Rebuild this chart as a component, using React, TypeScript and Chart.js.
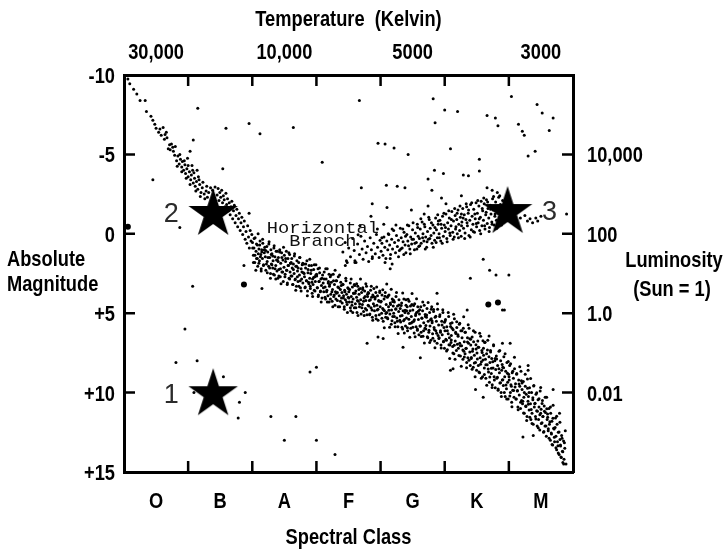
import React, { useEffect, useRef } from 'react';
import { Chart, registerables } from 'chart.js';

Chart.register(...registerables);

// ---------- axis / label data ----------
const spectralClasses = ['O', 'B', 'A', 'F', 'G', 'K', 'M'];
const classCenters = [0.5, 1.5, 2.5, 3.5, 4.5, 5.5, 6.5];
const classBoundaries = [1, 2, 3, 4, 5, 6];
const temperatureLabels = ['30,000', '10,000', '5000', '3000'];
const temperaturePositions = [0.5, 2.5, 4.5, 6.5];
const magnitudeTicks = [-10, -5, 0, 5, 10, 15];
const magnitudeLabels = ['-10', '-5', '0', '+5', '+10', '+15'];
const innerMagnitudeTicks = [-5, 0, 5, 10];
const luminosityTicks = [-5, 0, 5, 10];
const luminosityLabels = ['10,000', '100', '1.0', '0.01'];

// ---------- star data: [spectral position, absolute magnitude] ----------
type P = [number, number];

const mainSequenceUpper: P[] = [
  [0.06, -9.75], [0.09, -9.45], [0.15, -9.1], [0.2, -8.8], [0.25, -8.4], [0.33, -8.4], [0.35, -7.7], [0.42, -7.4],
  [0.45, -7.15], [0.48, -6.9], [0.54, -6.4], [0.56, -6.6], [0.61, -6.7], [0.64, -6.25], [0.67, -6.05], [0.69, -5.35],
  [0.72, -5.3], [0.74, -5.65], [0.77, -5.2], [0.8, -5.5], [0.82, -4.6], [0.84, -4.9], [0.86, -4.4], [0.88, -4.7],
  [0.9, -4.2], [0.91, -4.55], [0.93, -4.0], [0.95, -4.35], [0.96, -3.8], [0.98, -4.1], [1.0, -3.6], [1.0, -4.3],
  [1.02, -3.9], [1.04, -3.4], [1.05, -3.7], [1.07, -4.0], [1.08, -3.2], [1.1, -3.5], [1.11, -3.0], [1.13, -3.3],
  [1.15, -2.8], [1.16, -3.6], [1.18, -3.1], [1.2, -2.6], [1.22, -2.9], [1.25, -2.5], [1.28, -2.7], [1.3, -2.3],
  [0.5, -6.65], [0.58, -6.2], [0.63, -5.95], [0.66, -6.4], [0.71, -5.6], [0.76, -5.45], [0.79, -4.95],
  [0.83, -4.25], [0.87, -5.0], [0.9, -3.9], [0.94, -4.6], [0.97, -3.5], [0.99, -4.75], [1.03, -3.1], [1.06, -4.3],
  [1.09, -3.85], [1.12, -2.7], [1.14, -4.0], [1.17, -3.4], [1.19, -2.35], [1.23, -3.25], [1.26, -2.2], [1.29, -3.0],
  [1.32, -2.6], [1.35, -2.9], [1.38, -2.75], [1.42, -2.95],
];

const mainSequenceBright: P[] = [
  [1.452, -2.45], [1.467, -2.85], [1.481, -2.1], [1.494, -2.6], [1.508, -2.3], [1.523, -2.75], [1.536, -1.95], [1.549, -2.4],
  [1.562, -2.15], [1.576, -1.7], [1.589, -2.55], [1.601, -1.85], [1.614, -2.2], [1.628, -1.45], [1.641, -1.95], [1.655, -1.2],
  [1.668, -1.7], [1.681, -2.05], [1.694, -0.95], [1.707, -1.45], [1.72, -1.8], [1.733, -0.7], [1.746, -1.15], [1.759, -1.55],
  [1.772, -0.45], [1.785, -0.95], [1.798, -1.3], [1.811, -0.2], [1.824, -0.7], [1.837, -1.05], [1.85, 0.05], [1.863, -0.45],
  [1.876, -0.8], [1.889, 0.35], [1.902, -0.15], [1.915, 0.6], [1.928, -0.5], [1.941, 0.2], [1.954, 0.9], [1.967, -0.2],
  [1.98, 0.45], [1.993, 0.05],
];

const mainSequenceMiddle: P[] = [
  [2.003, 0.55], [2.017, 1.35], [2.026, 0.9], [2.038, 1.8], [2.044, 0.25], [2.058, 1.1], [2.066, 1.55], [2.079, 0.7], [2.085, 2.05], [2.093, 1.25],
  [2.104, 0.95], [2.112, 1.7], [2.121, 0.45], [2.133, 1.3], [2.139, 2.2], [2.147, 1.0], [2.158, 1.55], [2.164, 0.6], [2.176, 1.95], [2.188, 1.2], [2.195, 0.85],
  [2.203, 1.45], [2.211, 2.3], [2.226, 0.8], [2.232, 1.75], [2.241, 1.15], [2.255, 2.05], [2.262, 0.5], [2.271, 1.5], [2.284, 2.5], [2.29, 1.0], [2.298, 1.9],
  [2.306, 1.25], [2.318, 2.15], [2.324, 1.7], [2.337, 0.9], [2.345, 2.6], [2.353, 1.45], [2.366, 2.0], [2.372, 1.1], [2.385, 2.35], [2.391, 1.65], [2.399, 2.8],
  [2.407, 1.5], [2.414, 2.25], [2.428, 1.0], [2.436, 2.7], [2.443, 1.85], [2.457, 1.2], [2.462, 2.4], [2.478, 1.65], [2.483, 3.0], [2.494, 2.1], [2.5, 1.35],
  [2.512, 2.55], [2.519, 1.75], [2.531, 1.1], [2.538, 2.3], [2.547, 3.1], [2.556, 1.55], [2.565, 2.0], [2.573, 2.8], [2.582, 1.3], [2.589, 2.4], [2.597, 1.85],
  [2.604, 2.65], [2.615, 1.55], [2.622, 2.15], [2.634, 3.2], [2.641, 1.9], [2.652, 2.5], [2.66, 1.25], [2.671, 2.85], [2.679, 2.05], [2.688, 3.3], [2.696, 1.7],
  [2.705, 2.35], [2.713, 3.0], [2.724, 1.8], [2.735, 2.6], [2.742, 1.5], [2.751, 3.4], [2.762, 2.2], [2.769, 2.85], [2.778, 1.95], [2.789, 3.1], [2.797, 2.45],
  [2.803, 1.9], [2.814, 2.7], [2.826, 3.35], [2.831, 2.15], [2.843, 2.95], [2.852, 1.7], [2.861, 3.6], [2.868, 2.45], [2.877, 3.05], [2.886, 2.0], [2.895, 2.8],
  [2.904, 3.3], [2.911, 2.5], [2.923, 2.0], [2.933, 3.75], [2.94, 2.85], [2.948, 3.2], [2.957, 2.25], [2.966, 3.55], [2.975, 2.7], [2.983, 3.0], [2.992, 1.95],
  [3.004, 2.65], [3.012, 3.4], [3.025, 2.2], [3.031, 3.85], [3.042, 3.0], [3.05, 2.45], [3.063, 3.6], [3.069, 2.85], [3.078, 3.25], [3.087, 4.05], [3.096, 2.6],
  [3.105, 3.1], [3.114, 3.65], [3.121, 2.4], [3.136, 3.35], [3.142, 4.1], [3.151, 2.85], [3.163, 3.55], [3.168, 2.2], [3.179, 3.9], [3.187, 3.0], [3.198, 4.3],
  [3.203, 3.3], [3.216, 2.7], [3.224, 3.8], [3.232, 3.05], [3.245, 4.25], [3.251, 3.5], [3.262, 2.55], [3.27, 3.95], [3.281, 3.2], [3.289, 4.5], [3.297, 3.65],
  [3.306, 2.95], [3.313, 3.75], [3.327, 4.2], [3.334, 3.35], [3.341, 2.7], [3.355, 3.9], [3.362, 4.6], [3.373, 3.5], [3.38, 3.05], [3.391, 4.05], [3.398, 3.7],
  [3.402, 4.35], [3.415, 3.2], [3.423, 3.9], [3.434, 4.75], [3.44, 3.55], [3.452, 4.15], [3.461, 2.95], [3.469, 3.8], [3.478, 4.45], [3.489, 3.4], [3.496, 4.0],
  [3.505, 3.65], [3.513, 4.3], [3.528, 3.1], [3.535, 4.85], [3.543, 3.95], [3.554, 4.5], [3.561, 3.35], [3.572, 4.1], [3.58, 3.75], [3.591, 4.65], [3.598, 3.25],
  [3.607, 4.4], [3.614, 3.6], [3.626, 4.0], [3.633, 4.95], [3.645, 3.3], [3.652, 4.25], [3.664, 3.8], [3.671, 4.6], [3.682, 3.45], [3.69, 4.15], [3.697, 5.05],
  [3.704, 3.7], [3.716, 4.45], [3.723, 3.4], [3.735, 4.9], [3.742, 4.05], [3.751, 3.6], [3.763, 4.7], [3.77, 4.2], [3.781, 3.3], [3.788, 5.1], [3.797, 3.95],
  [3.806, 4.5], [3.812, 3.75], [3.825, 4.2], [3.833, 5.05], [3.844, 3.55], [3.851, 4.65], [3.86, 4.0], [3.872, 5.25], [3.879, 3.85], [3.888, 4.4], [3.896, 3.45],
  [3.905, 4.85], [3.913, 4.1], [3.926, 3.7], [3.931, 5.35], [3.943, 4.5], [3.952, 3.9], [3.96, 4.75], [3.971, 4.2], [3.98, 5.1], [3.987, 3.6], [3.994, 4.6],
  [4.003, 4.3], [4.016, 5.0], [4.022, 3.85], [4.033, 4.7], [4.041, 5.5], [4.054, 4.1], [4.061, 4.85], [4.073, 3.7], [4.079, 5.25], [4.088, 4.45], [4.097, 4.95],
  [4.106, 4.0], [4.112, 5.35], [4.124, 4.6], [4.131, 3.85], [4.145, 5.05], [4.152, 4.35], [4.166, 5.7], [4.171, 4.8], [4.182, 4.1], [4.19, 5.2], [4.198, 4.55],
  [4.204, 5.0], [4.215, 4.3], [4.223, 5.6], [4.236, 4.75], [4.241, 3.95], [4.253, 5.3], [4.264, 4.55], [4.27, 5.85], [4.282, 4.9], [4.287, 4.15], [4.299, 5.45],
  [4.307, 4.7], [4.313, 5.55], [4.328, 4.35], [4.335, 5.15], [4.344, 6.0], [4.351, 4.85], [4.363, 4.1], [4.372, 5.4], [4.38, 4.95], [4.389, 5.8], [4.396, 4.5],
  [4.404, 5.3], [4.415, 4.6], [4.421, 6.1], [4.433, 5.0], [4.444, 4.25], [4.452, 5.65], [4.46, 4.85], [4.471, 5.95], [4.479, 5.2], [4.488, 4.45], [4.497, 5.55],
  [4.503, 4.8], [4.517, 5.5], [4.524, 6.25], [4.531, 4.4], [4.546, 5.15], [4.553, 5.85], [4.562, 4.95], [4.574, 6.0], [4.58, 4.6], [4.59, 5.4], [4.598, 6.35],
  [4.606, 5.05], [4.614, 5.8], [4.627, 4.6], [4.632, 6.2], [4.643, 5.3], [4.655, 4.85], [4.661, 6.45], [4.673, 5.6], [4.68, 4.5], [4.692, 5.95], [4.699, 5.2],
  [4.705, 6.0], [4.716, 5.25], [4.724, 4.7], [4.736, 6.55], [4.742, 5.5], [4.753, 6.2], [4.765, 4.95], [4.771, 5.8], [4.783, 6.7], [4.79, 5.35], [4.797, 4.6],
];

const mainSequenceLower: P[] = [
  [4.804, 5.6], [4.811, 6.3], [4.826, 4.9], [4.834, 5.9], [4.843, 6.75], [4.85, 5.25], [4.862, 6.1], [4.87, 5.5], [4.881, 6.9], [4.889, 4.75], [4.896, 6.4],
  [4.905, 5.75], [4.913, 6.55], [4.925, 5.1], [4.934, 6.2], [4.942, 7.0], [4.953, 5.5], [4.961, 6.35], [4.972, 4.95], [4.98, 6.8], [4.988, 5.9], [4.996, 7.2],
  [5.004, 6.1], [5.012, 5.4], [5.026, 6.7], [5.033, 5.85], [5.041, 7.3], [5.055, 6.3], [5.062, 5.2], [5.073, 6.55], [5.081, 7.0], [5.09, 5.65], [5.098, 6.85],
  [5.103, 6.4], [5.115, 5.6], [5.124, 7.1], [5.132, 6.05], [5.143, 7.55], [5.151, 5.35], [5.164, 6.75], [5.17, 6.2], [5.182, 7.35], [5.189, 5.9], [5.197, 6.95],
  [5.206, 6.35], [5.213, 7.2], [5.227, 5.7], [5.234, 6.9], [5.245, 7.7], [5.252, 6.1], [5.263, 7.05], [5.27, 6.55], [5.284, 7.9], [5.29, 5.95], [5.299, 7.4],
  [5.305, 6.8], [5.317, 7.55], [5.322, 6.2], [5.336, 7.2], [5.343, 8.1], [5.355, 6.55], [5.361, 7.8], [5.372, 6.9], [5.38, 5.95], [5.391, 7.45], [5.398, 8.3],
  [5.406, 7.0], [5.413, 7.85], [5.427, 6.5], [5.433, 7.4], [5.445, 8.4], [5.451, 6.8], [5.462, 7.65], [5.474, 6.2], [5.48, 8.1], [5.49, 7.25], [5.497, 8.6],
  [5.503, 7.5], [5.516, 6.75], [5.524, 8.3], [5.531, 7.15], [5.544, 8.75], [5.552, 7.8], [5.56, 6.45], [5.572, 8.05], [5.579, 7.35], [5.59, 9.0], [5.598, 7.95],
  [5.604, 7.2], [5.617, 8.45], [5.623, 6.85], [5.635, 7.9], [5.641, 9.1], [5.653, 7.55], [5.662, 8.25], [5.671, 6.7], [5.683, 8.7], [5.69, 7.75], [5.697, 9.35],
  [5.705, 8.1], [5.714, 7.35], [5.726, 8.8], [5.733, 7.85], [5.741, 9.5], [5.754, 8.45], [5.762, 7.05], [5.77, 9.0], [5.781, 8.0], [5.788, 9.7], [5.796, 8.55],
  [5.804, 7.7], [5.812, 9.1], [5.825, 8.3], [5.832, 9.85], [5.846, 7.4], [5.853, 8.75], [5.86, 9.4], [5.872, 8.0], [5.879, 10.0], [5.888, 8.6], [5.897, 9.2],
  [5.905, 8.4], [5.914, 9.55], [5.922, 7.75], [5.935, 9.0], [5.943, 10.25], [5.951, 8.65], [5.963, 9.75], [5.97, 8.1], [5.981, 9.35], [5.989, 10.4], [5.996, 8.85],
  [6.005, 9.2], [6.013, 8.3], [6.024, 10.0], [6.032, 9.5], [6.044, 10.6], [6.052, 8.75], [6.06, 9.85], [6.071, 9.1], [6.08, 10.3], [6.088, 8.5], [6.097, 9.65],
  [6.104, 9.45], [6.116, 10.4], [6.123, 8.8], [6.132, 9.9], [6.141, 10.9], [6.153, 9.2], [6.162, 10.15], [6.17, 9.6], [6.182, 11.0], [6.189, 8.65], [6.198, 10.5],
  [6.206, 9.8], [6.213, 10.7], [6.225, 9.3], [6.234, 10.3], [6.241, 11.3], [6.256, 9.6], [6.262, 10.85], [6.271, 10.1], [6.283, 11.5], [6.29, 9.15], [6.298, 10.55],
  [6.305, 10.25], [6.316, 11.1], [6.322, 9.7], [6.337, 10.7], [6.343, 11.7], [6.354, 10.0], [6.361, 11.3], [6.374, 10.45], [6.38, 12.0], [6.39, 9.55], [6.397, 10.9],
  [6.404, 10.7], [6.415, 11.5], [6.423, 10.1], [6.434, 11.15], [6.442, 12.1], [6.455, 10.45], [6.463, 11.7], [6.47, 10.9], [6.482, 12.35], [6.488, 9.9], [6.496, 11.3],
  [6.503, 11.05], [6.517, 11.9], [6.524, 10.5], [6.532, 11.5], [6.546, 12.45], [6.551, 10.85], [6.563, 12.1], [6.571, 11.25], [6.584, 12.75], [6.589, 10.3], [6.597, 11.7],
  [6.605, 11.55], [6.614, 12.4], [6.626, 11.0], [6.633, 12.0], [6.647, 13.0], [6.652, 11.3], [6.664, 12.6], [6.671, 11.8], [6.683, 13.3], [6.69, 10.8], [6.698, 12.25],
  [6.706, 12.3], [6.713, 13.1], [6.727, 11.6], [6.734, 12.75], [6.745, 13.6], [6.752, 12.0], [6.766, 13.35], [6.771, 12.5], [6.784, 13.9], [6.79, 11.3], [6.797, 12.95],
  [6.804, 13.3], [6.812, 14.05], [6.823, 12.7], [6.835, 13.7], [6.842, 14.4], [6.853, 13.05], [6.86, 14.2], [6.872, 13.5], [6.88, 12.4], [6.891, 14.5],
];

const mainSequenceFill: P[] = [
  [2.006, 0.9], [2.018, 1.8], [2.029, 0.3], [2.041, 1.35], [2.055, 2.3], [2.066, 0.65], [2.078, 1.55], [2.091, 0.0],
  [2.103, 1.85], [2.115, 0.7], [2.127, 1.45], [2.139, 2.35], [2.148, 1.15], [2.161, 0.35], [2.174, 2.0], [2.187, 1.0],
  [2.209, 1.05], [2.221, 1.9], [2.234, 2.45], [2.245, 1.5], [2.258, 0.65], [2.27, 2.15], [2.283, 2.8], [2.296, 1.3],
  [2.306, 1.95], [2.318, 1.4], [2.329, 2.55], [2.341, 0.75], [2.355, 2.2], [2.366, 2.85], [2.378, 1.65], [2.391, 1.1],
  [2.403, 1.75], [2.415, 2.65], [2.427, 1.15], [2.439, 2.2], [2.448, 3.15], [2.461, 1.5], [2.474, 2.4], [2.487, 0.85],
  [2.509, 2.7], [2.521, 1.55], [2.534, 2.3], [2.545, 3.2], [2.558, 2.0], [2.57, 1.2], [2.583, 2.85], [2.596, 1.85],
  [2.606, 1.8], [2.618, 2.65], [2.629, 3.2], [2.641, 2.25], [2.655, 1.4], [2.666, 2.9], [2.678, 3.55], [2.691, 2.05],
  [2.703, 2.7], [2.715, 2.15], [2.727, 3.3], [2.739, 1.5], [2.748, 2.95], [2.761, 3.6], [2.774, 2.4], [2.787, 1.85],
  [2.809, 2.5], [2.821, 3.4], [2.834, 1.9], [2.845, 2.95], [2.858, 3.9], [2.87, 2.25], [2.883, 3.15], [2.896, 1.6],
  [2.906, 3.45], [2.918, 2.3], [2.929, 3.05], [2.941, 3.95], [2.955, 2.75], [2.966, 1.95], [2.978, 3.6], [2.991, 2.6],
  [3.003, 2.55], [3.015, 3.4], [3.027, 3.95], [3.039, 3.0], [3.048, 2.15], [3.061, 3.65], [3.074, 4.3], [3.087, 2.8],
  [3.109, 3.4], [3.121, 2.85], [3.134, 4.0], [3.145, 2.2], [3.158, 3.65], [3.17, 4.3], [3.183, 3.1], [3.196, 2.55],
  [3.206, 3.2], [3.218, 4.1], [3.229, 2.6], [3.241, 3.65], [3.255, 4.6], [3.266, 2.95], [3.278, 3.85], [3.291, 2.3],
  [3.303, 4.1], [3.315, 2.95], [3.327, 3.7], [3.339, 4.6], [3.348, 3.4], [3.361, 2.6], [3.374, 4.25], [3.387, 3.25],
  [3.409, 3.2], [3.421, 4.05], [3.434, 4.6], [3.445, 3.65], [3.458, 2.8], [3.47, 4.3], [3.483, 4.95], [3.496, 3.45],
  [3.506, 4.05], [3.518, 3.5], [3.529, 4.65], [3.541, 2.85], [3.555, 4.3], [3.566, 4.95], [3.578, 3.75], [3.591, 3.2],
  [3.603, 3.75], [3.615, 4.65], [3.627, 3.15], [3.639, 4.2], [3.648, 5.15], [3.661, 3.5], [3.674, 4.4], [3.687, 2.85],
  [3.709, 4.65], [3.721, 3.5], [3.734, 4.25], [3.745, 5.15], [3.758, 3.95], [3.77, 3.15], [3.783, 4.8], [3.796, 3.8],
  [3.806, 3.7], [3.818, 4.55], [3.829, 5.1], [3.841, 4.15], [3.855, 3.3], [3.866, 4.8], [3.878, 5.45], [3.891, 3.95],
  [3.903, 4.55], [3.915, 4.0], [3.927, 5.15], [3.939, 3.35], [3.948, 4.8], [3.961, 5.45], [3.974, 4.25], [3.987, 3.7],
  [4.009, 4.24], [4.021, 5.32], [4.034, 3.52], [4.045, 4.78], [4.058, 5.92], [4.07, 3.94], [4.083, 5.02], [4.096, 3.16],
  [4.106, 5.29], [4.118, 3.91], [4.129, 4.81], [4.141, 5.89], [4.155, 4.45], [4.166, 3.49], [4.178, 5.47], [4.191, 4.27],
  [4.203, 4.18], [4.215, 5.2], [4.227, 5.86], [4.239, 4.72], [4.248, 3.7], [4.261, 5.5], [4.274, 6.28], [4.287, 4.48],
  [4.309, 5.17], [4.321, 4.51], [4.334, 5.89], [4.345, 3.73], [4.358, 5.47], [4.37, 6.25], [4.383, 4.81], [4.396, 4.15],
  [4.406, 4.84], [4.418, 5.92], [4.429, 4.12], [4.441, 5.38], [4.455, 6.52], [4.466, 4.54], [4.478, 5.62], [4.491, 3.76],
  [4.503, 5.89], [4.515, 4.51], [4.527, 5.41], [4.539, 6.49], [4.548, 5.05], [4.561, 4.09], [4.574, 6.07], [4.587, 4.87],
  [4.609, 4.78], [4.621, 5.8], [4.634, 6.46], [4.645, 5.32], [4.658, 4.3], [4.67, 6.1], [4.683, 6.88], [4.696, 5.08],
  [4.706, 5.77], [4.718, 5.11], [4.729, 6.49], [4.741, 4.33], [4.755, 6.07], [4.766, 6.85], [4.778, 5.41], [4.791, 4.75],
  [4.803, 5.49], [4.815, 6.57], [4.827, 4.77], [4.839, 6.03], [4.848, 7.17], [4.861, 5.19], [4.874, 6.27], [4.887, 4.41],
  [4.909, 6.59], [4.921, 5.21], [4.934, 6.11], [4.945, 7.19], [4.958, 5.75], [4.97, 4.79], [4.983, 6.77], [4.996, 5.57],
  [5.006, 5.49], [5.018, 6.64], [5.029, 7.38], [5.041, 6.1], [5.055, 4.95], [5.066, 6.98], [5.078, 7.85], [5.091, 5.83],
  [5.103, 6.69], [5.115, 5.94], [5.127, 7.5], [5.139, 5.06], [5.148, 7.02], [5.161, 7.9], [5.174, 6.28], [5.187, 5.54],
  [5.209, 6.45], [5.221, 7.66], [5.234, 5.63], [5.245, 7.05], [5.258, 8.34], [5.27, 6.11], [5.283, 7.32], [5.296, 5.23],
  [5.306, 7.76], [5.318, 6.2], [5.329, 7.22], [5.341, 8.43], [5.355, 6.81], [5.366, 5.73], [5.378, 7.96], [5.391, 6.61],
  [5.403, 6.64], [5.415, 7.79], [5.427, 8.53], [5.439, 7.25], [5.448, 6.1], [5.461, 8.13], [5.474, 9.0], [5.487, 6.98],
  [5.509, 7.89], [5.521, 7.14], [5.534, 8.7], [5.545, 6.26], [5.558, 8.22], [5.57, 9.1], [5.583, 7.48], [5.596, 6.74],
  [5.606, 7.65], [5.618, 8.86], [5.629, 6.83], [5.641, 8.25], [5.655, 9.54], [5.666, 7.31], [5.678, 8.52], [5.691, 6.43],
  [5.703, 9.01], [5.715, 7.45], [5.727, 8.47], [5.739, 9.68], [5.748, 8.06], [5.761, 6.98], [5.774, 9.21], [5.787, 7.86],
  [5.809, 7.89], [5.821, 9.04], [5.834, 9.78], [5.845, 8.5], [5.858, 7.35], [5.87, 9.38], [5.883, 10.25], [5.896, 8.23],
  [5.906, 9.19], [5.918, 8.44], [5.929, 10.0], [5.941, 7.56], [5.955, 9.52], [5.966, 10.4], [5.978, 8.78], [5.991, 8.04],
  [6.003, 9.0], [6.015, 10.21], [6.027, 8.18], [6.039, 9.6], [6.048, 10.89], [6.061, 8.66], [6.074, 9.87], [6.087, 7.78],
  [6.109, 10.41], [6.121, 8.85], [6.134, 9.87], [6.145, 11.08], [6.158, 9.46], [6.17, 8.38], [6.183, 10.61], [6.196, 9.26],
  [6.206, 9.39], [6.218, 10.54], [6.229, 11.28], [6.241, 10.0], [6.255, 8.85], [6.266, 10.88], [6.278, 11.75], [6.291, 9.73],
  [6.303, 10.74], [6.315, 9.99], [6.327, 11.55], [6.339, 9.11], [6.348, 11.07], [6.361, 11.95], [6.374, 10.33], [6.387, 9.59],
  [6.409, 10.67], [6.421, 11.66], [6.434, 10.01], [6.445, 11.17], [6.458, 12.21], [6.47, 10.39], [6.483, 11.39], [6.496, 9.68],
  [6.506, 11.95], [6.518, 10.68], [6.529, 11.51], [6.541, 12.5], [6.555, 11.17], [6.566, 10.29], [6.578, 12.11], [6.591, 11.01],
  [6.603, 11.34], [6.615, 12.28], [6.627, 12.88], [6.639, 11.83], [6.648, 10.9], [6.661, 12.55], [6.674, 13.27], [6.687, 11.61],
  [6.709, 12.81], [6.721, 12.2], [6.734, 13.47], [6.745, 11.49], [6.758, 13.09], [6.77, 13.8], [6.783, 12.48], [6.796, 11.87],
  [6.806, 13.36], [6.818, 14.08], [6.829, 12.88], [6.841, 13.72], [6.855, 14.5], [6.866, 13.16],
];

const giantBranch: P[] = [
  [3.412, 1.15], [3.447, 0.55], [3.468, 1.7], [3.503, 0.9], [3.531, 1.45], [3.566, 0.3], [3.589, 1.05], [3.617, 1.8], [3.642, 0.65], [3.671, 1.3], [3.693, 0.15],
  [3.712, 0.95], [3.728, 1.6], [3.751, 0.45], [3.774, 1.2], [3.796, 0.8], [3.815, 1.75], [3.838, 0.25], [3.857, 1.0], [3.872, 1.45], [3.894, 0.6], [3.918, 1.25],
  [3.936, 0.05], [3.953, 0.85], [3.977, 1.5], [3.992, 0.4],
  [4.008, 1.1], [4.021, 0.6], [4.037, 1.35], [4.052, 0.2], [4.066, 0.85], [4.083, 1.55], [4.097, 0.45], [4.112, 1.0], [4.128, 0.05], [4.141, 0.7],
  [4.156, 1.3], [4.173, 0.35], [4.187, 0.95], [4.204, -0.2], [4.219, 0.55], [4.233, 1.2], [4.248, 0.1], [4.262, 0.8], [4.279, 0.4], [4.293, 1.05],
  [4.308, -0.35], [4.322, 0.25], [4.337, 0.9], [4.351, 0.5], [4.366, -0.1], [4.382, 0.7], [4.395, 1.2], [4.41, 0.05], [4.425, 0.45], [4.441, -0.5],
  [4.456, 0.95], [4.47, 0.2], [4.484, 0.65], [4.499, -0.25], [4.513, 0.35], [4.528, 1.0], [4.542, -0.05], [4.557, 0.55], [4.573, -0.6], [4.586, 0.15], [4.594, 0.8],
  [4.606, 0.3], [4.619, -0.3], [4.633, 0.6], [4.648, -0.75], [4.661, 0.0], [4.675, 0.45], [4.69, -0.45], [4.703, 0.2], [4.718, 0.85], [4.732, -0.15],
  [4.745, 0.35], [4.759, -0.9], [4.774, -0.35], [4.787, 0.1], [4.801, 0.6], [4.816, -0.55], [4.83, -0.05], [4.843, 0.4], [4.858, -1.0], [4.871, -0.25],
  [4.885, 0.25], [4.898, -0.6],
  [4.912, 0.0], [4.925, -0.85], [4.938, 0.45], [4.952, -0.35], [4.966, -1.1], [4.979, 0.15], [4.993, -0.55], [5.006, -0.15], [5.019, -1.25], [5.033, 0.3],
  [5.046, -0.7], [5.058, -0.3], [5.072, -1.0], [5.085, 0.1], [5.098, -0.5], [5.111, -1.4], [5.124, -0.1], [5.137, -0.8], [5.149, 0.2], [5.162, -1.15],
  [5.175, -0.45], [5.188, -0.9], [5.196, 0.0],
  [5.207, -1.5], [5.219, -0.6], [5.232, -0.2], [5.244, -1.05], [5.256, 0.15], [5.268, -0.75], [5.281, -1.6], [5.293, -0.35], [5.305, -1.2], [5.317, -0.05],
  [5.33, -0.9], [5.342, -1.7], [5.354, -0.5], [5.366, -1.3], [5.378, 0.1], [5.391, -0.85], [5.403, -1.85], [5.415, -0.25], [5.427, -1.1], [5.44, -0.6],
  [5.452, -1.55], [5.464, -0.1], [5.476, -0.95], [5.489, -1.95], [5.497, -0.45],
  [5.509, -1.3], [5.521, -0.7], [5.533, -1.75], [5.545, -0.2], [5.556, -1.05], [5.568, -2.05], [5.58, -0.5], [5.592, -1.45], [5.604, -0.85], [5.616, -1.9],
  [5.628, -0.3], [5.639, -1.2], [5.651, -2.15], [5.663, -0.65], [5.675, -1.6], [5.687, -1.0], [5.698, -0.4],
  [5.71, -1.8], [5.722, -1.25], [5.734, -0.75], [5.746, -2.2], [5.758, -1.5], [5.77, -0.55], [5.782, -1.1], [5.794, -2.0], [5.806, -0.85], [5.818, -1.6],
  [5.83, -1.3], [5.842, -2.3], [5.855, -0.7], [5.867, -1.85], [5.879, -1.0], [5.891, -1.55], [5.903, -2.1], [5.92, -1.2], [5.94, -1.75],
  [6.18, -1.0], [6.29, -0.8], [6.37, -0.7], [6.45, -0.8], [6.5, -1.1], [6.42, -1.0], [6.9, -1.25], [6.25, -1.15], [6.33, -0.95],
  [3.87, 1.55], [4.07, 1.8], [4.18, 1.9], [3.48, 1.8], [3.6, 1.7], [3.68, -0.5], [3.65, 0.06], [4.18, -0.3], [4.12, 0.0], [4.02, 0.25],
  [3.95, -0.3], [4.05, -0.6], [4.15, 1.55], [4.24, -0.55], [4.28, 1.45],
];

const giantBranchFill: P[] = [
  [4.315, 0.95], [4.347, -0.3], [4.362, 1.3], [4.389, 0.15], [4.418, -0.55], [4.436, 0.75], [4.463, 1.25], [4.491, 0.35],
  [4.507, -0.7], [4.535, 0.6], [4.566, 0.95], [4.579, -0.4], [4.611, 0.75], [4.628, -0.95], [4.655, 0.25], [4.682, -0.6],
  [4.697, 0.95], [4.724, 0.5], [4.751, -1.05], [4.768, 0.3], [4.793, -0.7], [4.822, 0.85], [4.848, -0.4], [4.866, 0.55],
  [4.891, -1.2], [4.917, 0.25], [4.944, -0.6], [4.961, 0.6], [4.987, -1.3], [5.012, -0.4], [5.038, 0.5], [5.063, -1.45],
  [5.079, -0.05], [5.104, -0.9], [5.131, 0.35], [5.155, -1.6], [5.169, -0.3], [5.193, -1.3], [5.214, 0.25], [5.238, -1.75],
  [5.262, -0.5], [5.287, -1.0], [5.311, 0.3], [5.335, -1.9], [5.348, -0.7], [5.372, -1.5], [5.397, 0.2], [5.421, -1.95],
  [5.446, -0.15], [5.469, -1.25], [5.493, -0.65], [5.515, -2.1], [5.538, -0.95], [5.561, 0.0], [5.585, -1.6], [5.609, -2.25],
  [5.622, -0.5], [5.646, -1.35], [5.669, -2.0], [5.692, -0.15], [5.716, -1.55], [5.739, -0.6], [5.762, -2.35], [5.786, -1.25],
  [5.811, -0.35], [5.835, -1.75], [5.858, -2.4], [5.884, -0.55], [5.911, -1.45], [5.933, -0.8],
];

const scatteredStars: P[] = [
  [3.67, -8.4], [4.82, -8.5], [5.0, -7.8], [5.2, -7.7], [4.85, -7.0], [6.04, -8.65], [6.44, -8.15], [6.52, -7.6],
  [6.69, -7.3], [5.66, -7.45], [5.79, -7.3], [5.83, -6.8], [6.15, -6.9], [6.21, -6.45], [6.24, -6.2], [6.63, -6.5],
  [3.96, -5.7], [4.07, -5.65], [4.21, -5.4], [4.43, -5.0], [5.09, -5.35], [6.3, -4.9], [6.41, -5.2], [5.54, -4.7],
  [5.54, -3.95], [4.84, -4.0], [4.98, -3.8], [4.74, -3.45], [5.29, -3.7], [5.37, -3.65], [3.7, -2.9], [4.09, -3.05],
  [4.26, -3.0], [4.38, -2.9], [4.8, -2.75], [5.66, -2.9], [5.74, -2.75], [5.82, -2.6], [5.26, -2.4], [4.95, -2.25],
  [3.87, -1.9], [4.1, -1.65], [4.48, -1.5], [4.68, -1.25], [5.02, -1.9], [4.74, -1.75], [4.9, -0.8], [5.26, -1.25],
  [3.85, -1.1], [1.15, -7.9], [1.59, -6.65], [1.08, -5.9], [1.03, -5.2], [1.54, -4.1], [1.95, -6.95], [2.12, -6.3],
  [2.64, -6.7], [3.09, -4.5], [1.95, -1.3], [0.45, -3.4], [0.87, -0.4],
  [2.15, 3.45], [1.07, 3.3], [1.87, 2.0], [0.95, 6.0], [0.81, 8.1], [1.14, 8.0], [1.55, 9.0], [1.89, 10.0], [1.8, 10.6],
  [1.78, 11.6], [2.29, 11.5], [2.68, 11.5], [2.5, 13.0], [3.0, 13.0], [2.9, 8.7], [3.0, 8.4], [3.29, 13.9], [1.09, 10.0],
  [5.6, 10.3], [6.22, 12.8], [6.38, 12.7], [5.48, 9.8], [5.13, 8.5], [6.3, 8.3], [6.3, 8.6], [5.9, 6.9], [6.02, 6.9],
  [6.69, 9.8], [4.88, 3.75], [5.35, 4.8], [4.62, 7.8], [5.09, 8.6], [3.96, 6.5], [4.04, 6.6], [3.79, 6.9], [4.35, 7.15],
  [3.6, 1.8], [3.45, 2.0], [4.15, 2.2], [5.6, 1.6], [5.4, 2.8], [6.0, 2.6], [5.7, 2.3], [5.8, 2.6], [5.9, 4.8], [5.93, 4.8],
];

const largeDots: P[] = [[5.68, 4.45], [5.83, 4.33], [1.87, 3.2], [0.06, -0.45]];

const namedStars: P[] = [[1.39, 10.1], [1.39, -1.25], [5.98, -1.37]];
const namedStarLabels = ['1', '2', '3'];
const namedStarLabelSide = [-1, -1, 1];

const branchLabelLines = ['Horizontal', 'Branch'];
const branchLabelAnchor: P[] = [[3.1, -0.35], [3.1, 0.5]];

const axisTitleTop = 'Temperature  (Kelvin)';
const axisTitleBottom = 'Spectral Class';
const axisTitleLeft = ['Absolute', 'Magnitude'];
const axisTitleRight = ['Luminosity', '(Sun = 1)'];

// ---------- helpers ----------
const FONT = "bold 22px 'Liberation Sans', Arial, sans-serif";
const SQUEEZE = 0.83;
const toXY = (arr: P[]) => arr.map(([x, y]) => ({ x, y }));

function narrowText(ctx: CanvasRenderingContext2D, text: string, x: number, y: number, align: CanvasTextAlign) {
  ctx.save();
  ctx.translate(x, y);
  ctx.scale(SQUEEZE, 1);
  ctx.textAlign = align;
  ctx.fillText(text, 0, 0);
  ctx.restore();
}

function makeStar(R: number): HTMLCanvasElement {
  const size = Math.ceil(R * 2) + 2;
  const c = document.createElement('canvas');
  c.width = size;
  c.height = size;
  const ctx = c.getContext('2d')!;
  ctx.translate(size / 2, size / 2);
  ctx.beginPath();
  const r = R * 0.382;
  for (let i = 0; i < 10; i++) {
    const a = -Math.PI / 2 + (i * Math.PI) / 5;
    const rad = i % 2 === 0 ? R : r;
    ctx.lineTo(rad * Math.cos(a), rad * Math.sin(a));
  }
  ctx.closePath();
  ctx.fillStyle = '#000';
  ctx.fill();
  return c;
}

const decorPlugin = {
  id: 'hrDecor',
  afterDatasetsDraw(chart: any) {
    const ctx = chart.ctx as CanvasRenderingContext2D;
    const xs = chart.scales.x;
    const ys = chart.scales.y;
    ctx.save();
    ctx.fillStyle = '#111';
    ctx.textAlign = 'center';
    ctx.textBaseline = 'middle';
    ctx.font = "17px 'Liberation Mono', 'DejaVu Sans Mono', monospace";
    branchLabelLines.forEach((t, i) => {
      const px = xs.getPixelForValue(branchLabelAnchor[i][0]);
      const py = ys.getPixelForValue(branchLabelAnchor[i][1]);
      ctx.save();
      ctx.translate(px, py);
      ctx.scale(1.1, 1);
      ctx.fillText(t, 0, 0);
      ctx.restore();
    });
    const meta = chart.getDatasetMeta(chart.data.datasets.length - 1);
    ctx.fillStyle = '#2b2b2b';
    ctx.font = "27px 'Liberation Sans', Arial, sans-serif";
    meta.data.forEach((el: any, i: number) => {
      ctx.fillText(namedStarLabels[i], el.x + namedStarLabelSide[i] * 42, el.y + 1);
    });
    ctx.restore();
  },
  afterDraw(chart: any) {
    const ctx = chart.ctx as CanvasRenderingContext2D;
    const { left, right, top, bottom } = chart.chartArea;
    const xs = chart.scales.x;
    const xt = chart.scales.x2;
    const ys = chart.scales.y;
    const yr = chart.scales.y2;
    ctx.save();
    ctx.strokeStyle = '#000';
    ctx.lineWidth = 2.5;
    ctx.beginPath();
    classBoundaries.forEach((v) => {
      const px = xs.getPixelForValue(v);
      ctx.moveTo(px, bottom);
      ctx.lineTo(px, bottom - 11);
      ctx.moveTo(px, top);
      ctx.lineTo(px, top + 11);
    });
    innerMagnitudeTicks.forEach((v) => {
      const py = ys.getPixelForValue(v);
      ctx.moveTo(left, py);
      ctx.lineTo(left + 11, py);
      ctx.moveTo(right, py);
      ctx.lineTo(right - 11, py);
    });
    ctx.stroke();

    ctx.fillStyle = '#000';
    ctx.font = FONT;
    ctx.textBaseline = 'middle';
    classCenters.forEach((v, i) => narrowText(ctx, spectralClasses[i], xs.getPixelForValue(v), bottom + 30, 'center'));
    temperaturePositions.forEach((v, i) => narrowText(ctx, temperatureLabels[i], xt.getPixelForValue(v), top - 22, 'center'));
    magnitudeTicks.forEach((v, i) => narrowText(ctx, magnitudeLabels[i], left - 9, ys.getPixelForValue(v) + 2, 'right'));
    luminosityTicks.forEach((v, i) => narrowText(ctx, luminosityLabels[i], right + 14, yr.getPixelForValue(v) + 2, 'left'));

    narrowText(ctx, axisTitleTop, (left + right) / 2, 20, 'center');
    narrowText(ctx, axisTitleBottom, (left + right) / 2, bottom + 66, 'center');
    narrowText(ctx, axisTitleLeft[0], 7, 260, 'left');
    narrowText(ctx, axisTitleLeft[1], 7, 285, 'left');
    narrowText(ctx, axisTitleRight[0], 674, 261, 'center');
    narrowText(ctx, axisTitleRight[1], 672, 290, 'center');
    ctx.restore();
  },
};

export default function App() {
  const ref = useRef<HTMLCanvasElement>(null);
  useEffect(() => {
    const canvas = ref.current!;
    const starImg = makeStar(26);
    const dot = { backgroundColor: '#000', borderWidth: 0, pointRadius: 1.5, pointHoverRadius: 1.5 };
    const hiddenTicks = { display: false };
    const noGrid = { display: false, drawTicks: false };
    const border = { display: true, width: 3, color: '#000' };
    const chart = new Chart(canvas, {
      type: 'scatter',
      data: {
        datasets: [
          { label: 'Main sequence', data: toXY([...mainSequenceUpper, ...mainSequenceBright, ...mainSequenceMiddle, ...mainSequenceLower, ...mainSequenceFill]), ...dot },
          { label: 'Giants', data: toXY([...giantBranch, ...giantBranchFill]), ...dot },
          { label: 'Scattered', data: toXY(scatteredStars), ...dot },
          { label: 'Large', data: toXY(largeDots), backgroundColor: '#000', borderWidth: 0, pointRadius: 3 },
          { label: 'Named', data: toXY(namedStars), pointStyle: starImg as any, pointRadius: 26, backgroundColor: '#000', borderWidth: 0 },
        ],
      },
      options: {
        responsive: false,
        animation: false,
        devicePixelRatio: 1,
        layout: { padding: 0 },
        events: [],
        plugins: { legend: { display: false }, tooltip: { enabled: false } },
        scales: {
          x: {
            type: 'linear', position: 'bottom', min: 0, max: 7,
            afterFit: (s: any) => { s.height = 80; },
            ticks: hiddenTicks, grid: noGrid, border,
          },
          x2: {
            type: 'linear', position: 'top', min: 0, max: 7,
            afterFit: (s: any) => { s.height = 75; },
            ticks: hiddenTicks, grid: noGrid, border,
          },
          y: {
            type: 'linear', position: 'left', min: -10, max: 15, reverse: true,
            afterFit: (s: any) => { s.width = 124; },
            ticks: hiddenTicks, grid: noGrid, border,
          },
          y2: {
            type: 'linear', position: 'right', min: -10, max: 15, reverse: true,
            afterFit: (s: any) => { s.width = 150; },
            ticks: hiddenTicks, grid: noGrid, border,
          },
        },
      } as any,
      plugins: [decorPlugin],
    });
    return () => chart.destroy();
  }, []);

  return (
    <div style={{ position: 'absolute', left: 0, top: 0, width: 723, height: 552, background: '#fff' }}>
      <canvas ref={ref} width={723} height={552} style={{ display: 'block' }} />
    </div>
  );
}
